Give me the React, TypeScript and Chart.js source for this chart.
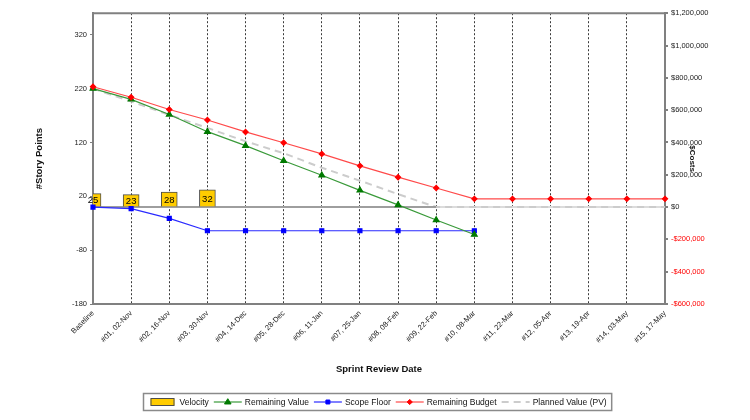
import React, { useEffect, useRef } from 'react';
import { Chart, registerables } from 'chart.js';

Chart.register(...registerables);

const categories = [
  'Baseline', '#01, 02-Nov', '#02, 16-Nov', '#03, 30-Nov', '#04, 14-Dec', '#05, 28-Dec',
  '#06, 11-Jan', '#07, 25-Jan', '#08, 08-Feb', '#09, 22-Feb', '#10, 08-Mar', '#11, 22-Mar',
  '#12, 05-Apr', '#13, 19-Apr', '#14, 03-May', '#15, 17-May',
];

const velocity = [25, 23, 28, 32, null, null, null, null, null, null, null, null, null, null, null, null];
const remainingValue = [220, 200, 172, 140, 114, 86, 59, 31, 4, -24, -51, null, null, null, null, null];
const scopeFloor = [0, -3, -21, -44, -44, -44, -44, -44, -44, -44, -44, null, null, null, null, null];
const remainingBudget = [745000, 680000, 604000, 539000, 465000, 398000, 329000, 255000, 185000, 118000, 51000, 51000, 51000, 51000, 51000, 51000];
const plannedValue = [220, 196, 171, 147, 122, 100, 73, 49, 24, 0, 0, 0, 0, 0, 0, 0];
const zeroLine = [0, 0, 0, 0, 0, 0, 0, 0, 0, 0, null, null, null, null, null, null];

const leftTicks = [-180, -80, 20, 120, 220, 320];
const rightTicks = [-600000, -400000, -200000, 0, 200000, 400000, 600000, 800000, 1000000, 1200000];

const FONT = "'Liberation Sans', Arial, sans-serif";

function drawMarker(ctx: CanvasRenderingContext2D, style: string, r: number, x: number, y: number) {
  ctx.beginPath();
  if (style === 'triangle') {
    ctx.moveTo(x, y - r);
    ctx.lineTo(x + r, y + r * 0.6);
    ctx.lineTo(x - r, y + r * 0.6);
    ctx.closePath();
  } else if (style === 'rect') {
    const s = r / Math.SQRT2;
    ctx.rect(x - s, y - s, 2 * s, 2 * s);
  } else if (style === 'rectRot') {
    ctx.moveTo(x, y - r);
    ctx.lineTo(x + r, y);
    ctx.lineTo(x, y + r);
    ctx.lineTo(x - r, y);
    ctx.closePath();
  } else {
    ctx.arc(x, y, r, 0, Math.PI * 2);
  }
  ctx.fill();
  ctx.stroke();
}

const frameAndLabelsPlugin = {
  id: 'frameAndLabels',
  beforeDatasetsDraw(chart: any) {
    const { ctx, chartArea } = chart;
    ctx.save();
    ctx.strokeStyle = '#808080';
    ctx.lineWidth = 2;
    ctx.beginPath();
    ctx.moveTo(chartArea.left - 1, chartArea.top);
    ctx.lineTo(chartArea.right + 1, chartArea.top);
    ctx.stroke();
    ctx.restore();
  },
  afterDatasetsDraw(chart: any) {
    const { ctx } = chart;
    chart.data.datasets.forEach((ds: any, i: number) => {
      if (ds.type !== 'bar') return;
      const meta = chart.getDatasetMeta(i);
      ctx.save();
      ctx.font = `9.5px ${FONT}`;
      ctx.fillStyle = '#000';
      ctx.textAlign = 'center';
      ctx.textBaseline = 'middle';
      meta.data.forEach((el: any, j: number) => {
        const v = ds.data[j];
        if (v === null || v === undefined) return;
        ctx.fillText(String(v), el.x, (el.y + el.base) / 2 + 0.5);
      });
      ctx.restore();
    });
  },
  afterDraw(chart: any) {
    const { ctx, chartArea } = chart;
    const items = chart.data.datasets.filter((d: any) => !d.hideInLegend);
    ctx.save();
    ctx.font = `8.5px ${FONT}`;
    const symW = 28, gap = 3, itemGap = 5, padX = 5;
    const widths = items.map((d: any) => symW + gap + ctx.measureText(d.label).width);
    const total = widths.reduce((a: number, b: number) => a + b, 0) + itemGap * (items.length - 1) + padX * 2;
    const cx = (chartArea.left + chartArea.right) / 2 - 2;
    const left = Math.round(cx - total / 2) + 0.5;
    const top = 385.5, h = 17, cy = top + h / 2;
    ctx.fillStyle = '#fff';
    ctx.fillRect(left, top, total, h);
    ctx.strokeStyle = '#8a8a8a';
    ctx.lineWidth = 1.5;
    ctx.strokeRect(left, top, total, h);
    let x = left + padX;
    items.forEach((d: any, i: number) => {
      if (d.type === 'bar') {
        ctx.fillStyle = d.backgroundColor;
        ctx.fillRect(x + 2, cy - 3.5, symW - 4, 7);
        ctx.strokeStyle = d.borderColor;
        ctx.lineWidth = 1;
        ctx.strokeRect(x + 2.5, cy - 3.5, symW - 5, 7);
      } else {
        ctx.save();
        ctx.strokeStyle = d.borderColor;
        ctx.lineWidth = d.borderWidth || 1.5;
        ctx.setLineDash(d.borderDash || []);
        ctx.beginPath();
        ctx.moveTo(x, cy);
        ctx.lineTo(x + symW, cy);
        ctx.stroke();
        ctx.restore();
        if (d.pointRadius) {
          ctx.save();
          ctx.fillStyle = d.pointBackgroundColor || d.borderColor;
          ctx.strokeStyle = d.pointBorderColor || d.borderColor;
          ctx.lineWidth = 1;
          drawMarker(ctx, d.pointStyle, d.pointRadius, x + symW / 2, cy);
          ctx.restore();
        }
      }
      ctx.fillStyle = '#111';
      ctx.textAlign = 'left';
      ctx.textBaseline = 'middle';
      ctx.fillText(d.label, x + symW + gap, cy + 0.5);
      x += widths[i] + itemGap;
    });
    ctx.restore();
  },
};

export default function App() {
  const ref = useRef<HTMLCanvasElement>(null);

  useEffect(() => {
    if (!ref.current) return;
    const chart = new Chart(ref.current, {
      type: 'bar',
      data: {
        labels: categories,
        datasets: [
          {
            type: 'bar',
            label: 'Velocity',
            data: velocity,
            yAxisID: 'y',
            backgroundColor: '#ffcc00',
            borderColor: '#4d4d4d',
            borderWidth: 1,
            barThickness: 16,
            clip: 0,
            order: 10,
          },
          {
            type: 'line',
            label: 'Remaining Value',
            data: remainingValue,
            yAxisID: 'y',
            borderColor: '#3a9a3a',
            borderWidth: 1.2,
            pointStyle: 'triangle',
            pointRadius: 3.3,
            pointBackgroundColor: '#007a00',
            pointBorderColor: '#007a00',
            order: 2,
          },
          {
            type: 'line',
            label: 'Scope Floor',
            data: scopeFloor,
            yAxisID: 'y',
            borderColor: '#2a2aff',
            borderWidth: 1.2,
            pointStyle: 'rect',
            pointRadius: 2.8,
            pointBackgroundColor: '#0000ff',
            pointBorderColor: '#0000ff',
            order: 3,
          },
          {
            type: 'line',
            label: 'Remaining Budget',
            data: remainingBudget,
            yAxisID: 'y1',
            borderColor: '#ff4a4a',
            borderWidth: 1.2,
            pointStyle: 'rectRot',
            pointRadius: 2.6,
            pointBackgroundColor: '#ff0000',
            pointBorderColor: '#ff0000',
            order: 1,
          },
          {
            type: 'line',
            label: 'Planned Value (PV)',
            data: plannedValue,
            yAxisID: 'y',
            borderColor: '#cccccc',
            borderWidth: 2,
            borderDash: [7, 5],
            pointRadius: 0,
            order: 5,
          },
          {
            type: 'line',
            label: '',
            hideInLegend: true,
            data: zeroLine,
            yAxisID: 'y',
            borderColor: '#8a8a8a',
            borderWidth: 1.5,
            pointRadius: 0,
            order: 4,
          } as any,
        ] as any,
      },
      options: {
        responsive: false,
        animation: false,
        events: [],
        layout: { padding: { top: 2, bottom: 24, left: 0, right: 0 } },
        plugins: {
          legend: { display: false },
          tooltip: { enabled: false },
        },
        scales: {
          x: {
            type: 'category',
            offset: false,
            grid: { offset: false, color: '#3a3a3a', lineWidth: 1, drawTicks: false },
            border: { display: true, color: '#808080', width: 2, dash: [2, 2] },
            ticks: {
              autoSkip: false,
              maxRotation: 45,
              minRotation: 45,
              padding: 5,
              color: '#222',
              font: { size: 7.5, family: FONT },
            },
            title: {
              display: true,
              text: 'Sprint Review Date',
              color: '#111',
              font: { size: 9.5, weight: 'bold', family: FONT },
              padding: { top: 0, bottom: 13 },
            },
            afterFit(s: any) {
              s.height = 84;
              s.paddingLeft = 0;
              s.paddingRight = 0;
            },
          },
          y: {
            type: 'linear',
            position: 'left',
            min: -180,
            max: 360,
            afterBuildTicks(s: any) {
              s.ticks = leftTicks.map((v) => ({ value: v }));
            },
            grid: { drawOnChartArea: false, drawTicks: true, tickLength: 3, tickColor: '#808080' },
            border: { display: true, color: '#808080', width: 2 },
            ticks: { padding: 3, color: '#222', font: { size: 7.5, family: FONT } },
            title: {
              display: true,
              text: '#Story Points',
              color: '#111',
              font: { size: 9.5, weight: 'bold', family: FONT },
              padding: { top: 26, bottom: 0 },
            },
            afterFit(s: any) {
              s.width = 85;
              s.paddingTop = 0;
              s.paddingBottom = 0;
            },
          },
          y1: {
            type: 'linear',
            position: 'right',
            min: -600000,
            max: 1200000,
            afterBuildTicks(s: any) {
              s.ticks = rightTicks.map((v) => ({ value: v }));
            },
            grid: {
              drawOnChartArea: true,
              drawTicks: true,
              tickLength: 3,
              tickColor: '#808080',
              lineWidth: 2,
              color: (c: any) => (c.tick && c.tick.value === 0 ? '#dcdcdc' : 'rgba(0,0,0,0)'),
            },
            border: { display: true, color: '#808080', width: 2 },
            ticks: {
              padding: 3,
              font: { size: 7.5, family: FONT },
              color: (c: any) => (c.tick && c.tick.value < 0 ? '#ff0000' : '#222'),
              callback: (v: any) => (Number(v) < 0 ? '-' : '') + '$' + Math.abs(Number(v)).toLocaleString('en-US'),
            },
            title: {
              display: true,
              text: '$Costs',
              color: '#111',
              font: { size: 8, weight: 'bold', family: FONT },
              padding: { top: 45, bottom: 0 },
            },
            afterFit(s: any) {
              s.width = 77;
              s.paddingTop = 0;
              s.paddingBottom = 0;
            },
          },
        },
      } as any,
      plugins: [frameAndLabelsPlugin],
    });
    return () => chart.destroy();
  }, []);

  return (
    <canvas
      ref={ref}
      width={734}
      height={404}
      style={{ display: 'block', width: 734, height: 404 }}
    />
  );
}
